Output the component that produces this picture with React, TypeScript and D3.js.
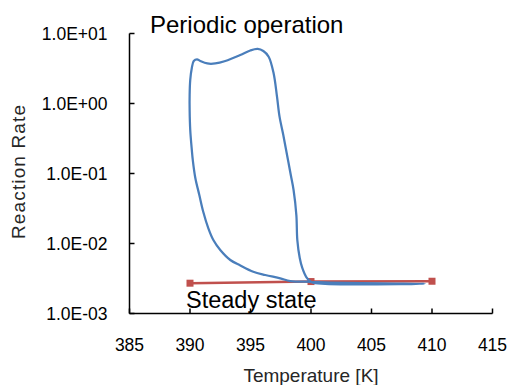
import React from "react";
import * as d3 from "d3";

// Periodic operation loop: temperature [K]
const loopT = [
  390.58, 390.85, 391.43, 392.09, 392.92, 394.16, 394.98, 395.59, 396.06, 396.5,
  396.91, 397.19, 397.4, 397.71, 398.02, 398.33, 398.56, 398.79, 398.87, 399.07,
  399.28, 399.61, 400.02, 401.18, 404.07, 407.38, 409.4, 405.73, 401.6, 400.02,
  398.29, 397.46, 396.22, 395.23, 394.16, 393.33, 392.5, 391.93, 391.51, 391.1,
  390.77, 390.44, 390.23, 390.15, 390.02, 389.97, 389.97, 390.02, 390.15, 390.31,
];
// Periodic operation loop: reaction rate
const loopRate = [
  4.28, 4.05, 3.73, 3.73, 4.05, 4.93, 5.71, 6.01, 5.62, 4.66,
  2.7, 1.25, 0.648, 0.355, 0.184, 0.0952, 0.0581, 0.0255, 0.0112, 0.00621,
  0.00447, 0.00332, 0.00282, 0.00265, 0.00261, 0.00262, 0.00266, 0.0027, 0.00277, 0.00284,
  0.00291, 0.00318, 0.00355, 0.00395, 0.00485, 0.00581, 0.00807, 0.0112, 0.0166, 0.0282,
  0.0493, 0.0863, 0.156, 0.217, 0.418, 0.807, 1.32, 2.17, 3.21, 4.05,
];

// Steady state
const steadyT = [390, 400, 410];
const steadyRate = [0.00271, 0.00286, 0.00289];

const xTicks = [385, 390, 395, 400, 405, 410, 415];
const yTicks = [1e1, 1e0, 1e-1, 1e-2, 1e-3];
const yTickLabels = ["1.0E+01", "1.0E+00", "1.0E-01", "1.0E-02", "1.0E-03"];

const FONT = "'Liberation Sans', Arial, sans-serif";

export default function App() {
  const W = 510;
  const H = 385;
  const left = 129.5;
  const right = 492.5;
  const top = 33.5;
  const bottom = 313.5;

  const x = d3.scaleLinear().domain([385, 415]).range([left, right]);
  const y = d3.scaleLog().domain([1e-3, 1e1]).range([bottom, top]);

  const loopPts: [number, number][] = loopT.map((t, i) => [x(t), y(loopRate[i])]);
  const loopPath =
    d3.line().curve(d3.curveCatmullRomClosed.alpha(0.5))(loopPts) || "";

  const steadyPts: [number, number][] = steadyT.map((t, i) => [x(t), y(steadyRate[i])]);
  const steadyPath = d3.line()(steadyPts) || "";

  return (
    <svg
      width={W}
      height={H}
      style={{ position: "absolute", left: 0, top: 0, background: "#fff" }}
      fontFamily={FONT}
    >
      <rect width={W} height={H} fill="#fff" />
      {/* steady state line */}
      <path d={steadyPath} fill="none" stroke="#C0504D" strokeWidth={2.5} />
      {steadyPts.map((p, i) => (
        <rect key={i} x={p[0] - 3.5} y={p[1] - 3.5} width={7} height={7} fill="#C0504D" />
      ))}
      {/* periodic loop */}
      <path d={loopPath} fill="none" stroke="#4A7EBB" strokeWidth={2.25} strokeLinejoin="round" />

      {/* axes */}
      <line x1={left} x2={left} y1={top} y2={bottom} stroke="#000" strokeWidth={1.5} />
      <line x1={left} x2={right} y1={bottom} y2={bottom} stroke="#000" strokeWidth={1.5} />
      {yTicks.map((v, i) => (
        <g key={v}>
          <line x1={left} x2={left + 5} y1={y(v)} y2={y(v)} stroke="#000" strokeWidth={1.5} />
          <text
            x={107.5}
            y={y(v) + 6.5}
            textAnchor="end"
            fontSize={17.5}
            fill="#000"
          >
            {yTickLabels[i]}
          </text>
        </g>
      ))}
      {xTicks.map((v) => (
        <g key={v}>
          <line x1={x(v)} x2={x(v)} y1={bottom} y2={bottom - 5} stroke="#000" strokeWidth={1.5} />
          <text x={x(v)} y={351} textAnchor="middle" fontSize={17.5} fill="#000">
            {v}
          </text>
        </g>
      ))}

      {/* axis titles */}
      <text x={311} y={382} textAnchor="middle" fontSize={19} fill="#262626">
        Temperature [K]
      </text>
      <text
        transform={`translate(25,172) rotate(-90)`}
        textAnchor="middle"
        fontSize={19}
        fill="#262626"
        textLength={134}
        lengthAdjust="spacing"
      >
        Reaction Rate
      </text>

      {/* annotations */}
      <text x={150} y={33} fontSize={24} fill="#000">
        Periodic operation
      </text>
      <text x={186} y={307.5} fontSize={23.5} fill="#000">
        Steady state
      </text>
    </svg>
  );
}
